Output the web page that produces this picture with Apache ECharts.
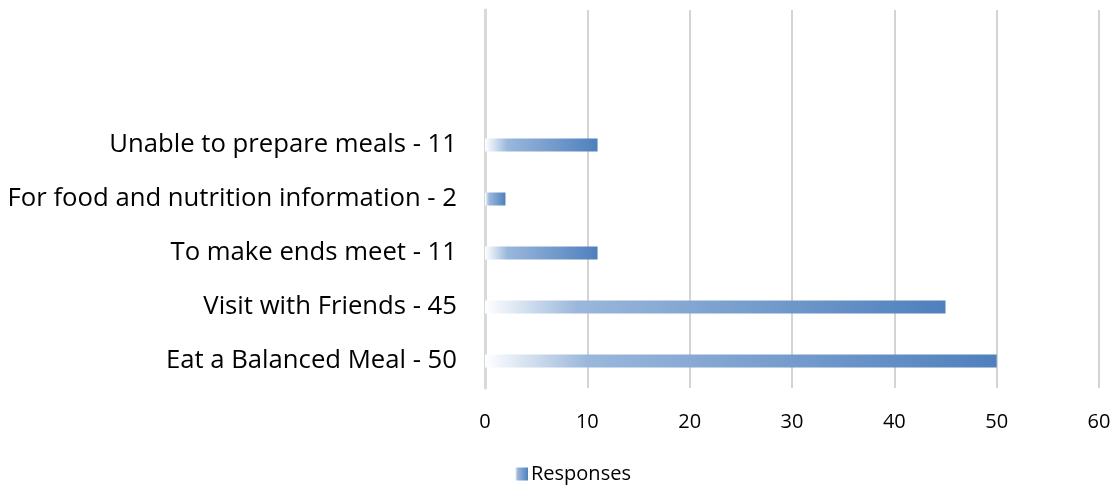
<!DOCTYPE html>
<html>
<head>
<meta charset="utf-8">
<script src="https://cdn.jsdelivr.net/npm/echarts@6/dist/echarts.min.js"></script>
<style>
  html, body { margin: 0; padding: 0; background: #ffffff; }
  #chart { width: 1117px; height: 487px; }
</style>
</head>
<body>
<div id="chart"></div>
<script>
// Reasons for attending, bottom to top; the two top slots are left empty
const categories = [
  'Eat a Balanced Meal - 50',
  'Visit with Friends - 45',
  'To make ends meet - 11',
  'For food and nutrition information - 2',
  'Unable to prepare meals - 11',
  '',
  ''
];
const responses = [50, 45, 11, 2, 11, null, null];
const seriesName = 'Responses';
const xTicks = { min: 0, max: 60, interval: 10 };

const FONT = '"Open Sans", Lato, sans-serif';

const barFill = new echarts.graphic.LinearGradient(0, 0, 1, 0, [
  { offset: 0, color: '#ffffff' },
  { offset: 0.2, color: '#9ab7db' },
  { offset: 1, color: '#4f80bd' }
]);

const chart = echarts.init(document.getElementById('chart'), null, { renderer: 'canvas' });
chart.setOption({
  animation: false,
  backgroundColor: '#ffffff',
  grid: { left: 485, right: 18, top: 10, bottom: 99, containLabel: false },
  legend: {
    data: [{ name: seriesName, icon: 'rect' }],
    left: 510,
    top: 459,
    itemWidth: 13,
    itemHeight: 13,
    itemGap: 6,
    textStyle: { fontFamily: FONT, fontSize: 20, color: '#000000', padding: [0, 0, 0, -2] }
  },
  xAxis: {
    type: 'value',
    min: xTicks.min,
    max: xTicks.max,
    interval: xTicks.interval,
    axisLine: { show: false },
    axisTick: { show: false },
    axisLabel: { fontFamily: FONT, fontSize: 20, color: '#000000', margin: 24 },
    splitLine: { show: true, lineStyle: { color: '#d4d4d4', width: 2 } }
  },
  yAxis: {
    type: 'category',
    data: categories,
    axisLine: { show: true, lineStyle: { color: '#d9d9d9', width: 3 } },
    axisTick: { show: false },
    axisLabel: { fontFamily: FONT, fontSize: 25.7, color: '#000000', margin: 28 },
    splitLine: { show: false }
  },
  series: [{
    name: seriesName,
    type: 'bar',
    data: responses,
    barWidth: 13,
    itemStyle: { color: barFill }
  }]
});
</script>
</body>
</html>
